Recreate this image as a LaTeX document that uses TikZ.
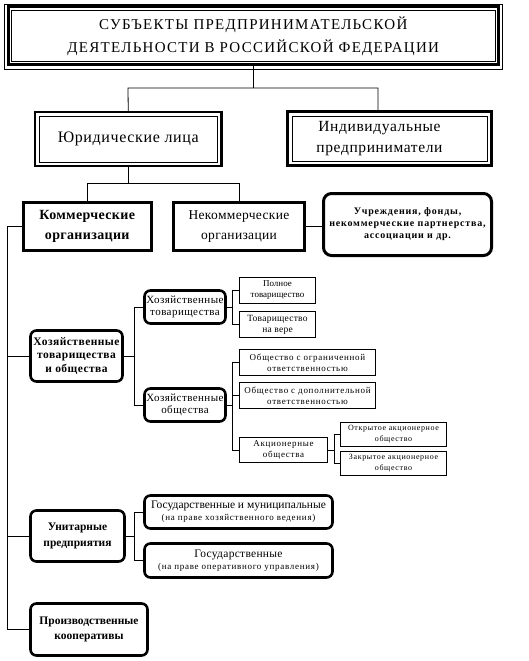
\documentclass[tikz,border=0pt]{standalone}
\usepackage{fontspec}
\setmainfont{Liberation Serif}
\newfontfamily\titlefont[LetterSpace=8.5]{Liberation Serif}
\newfontfamily\spfont[LetterSpace=4]{Liberation Serif}
\newfontfamily\spmfont[LetterSpace=8]{Liberation Serif}
\newfontfamily\spsfont[LetterSpace=2.5]{Liberation Serif}
\newcommand\mybox[7]{\node[#6, minimum width={(#4-#2)*1pt}, minimum height={(#5-#3)*1pt}] (#1) at ({(#2+#4)/2},{(#3+#5)/2}) {#7};}
\tikzset{
  base/.style={inner sep=0pt, outer sep=0pt, align=center},
  thickbox/.style={base, draw, line width=3pt},
  rbox/.style={base, draw, line width=2.6pt, rounded corners=6pt},
  thinbox/.style={base, draw, line width=0.8pt},
  conn/.style={line width=0.8pt},
}
\begin{document}
\begin{tikzpicture}[x=1pt,y=-1pt]
\useasboundingbox (0,0) rectangle (528,661);
% title
\mybox{title}{8}{7}{498.5}{64.5}{thickbox, font={\titlefont\fontsize{15}{23}\selectfont}}{СУБЪЕКТЫ ПРЕДПРИНИМАТЕЛЬСКОЙ\\ДЕЯТЕЛЬНОСТИ В РОССИЙСКОЙ ФЕДЕРАЦИИ}
\draw[line width=0.8pt] ([shift={(-3.5,-2.5)}]title.north west) rectangle ([shift={(3.5,4.5)}]title.south east);
\draw[line width=0.8pt] ([shift={(3,3)}]title.north west) rectangle ([shift={(-3,-3)}]title.south east);
% level 2
\mybox{jur}{35}{112}{221.5}{166}{thickbox, line width=2.2pt, font={\spfont\fontsize{16}{20}\selectfont}}{Юридические лица}
\draw[line width=0.8pt] ([shift={(4,4)}]jur.north west) rectangle ([shift={(-4,-4)}]jur.south east);
\mybox{ind}{287.5}{111.5}{491.5}{165.5}{thickbox, font={\spfont\fontsize{15.5}{21}\selectfont}}{Индивидуальные\hspace*{20pt}\\предприниматели\hspace*{20pt}}
\draw[line width=0.8pt] ([shift={(4.5,4.5)}]ind.north west) rectangle ([shift={(-4.5,-4.5)}]ind.south east);
% level 3
\mybox{komm}{23}{202.5}{151.5}{250.5}{thickbox, font={\spsfont\fontsize{14}{20}\selectfont\bfseries}}{Коммерческие\\организации}
\mybox{nekomm}{173.5}{202.5}{304.5}{250.5}{thickbox, font={\spsfont\fontsize{13.5}{20}\selectfont}}{Некоммерческие\\организации}
\mybox{uchr}{323.5}{193.5}{491.5}{255.5}{rbox, line width=3pt, rounded corners=8pt, font={\spmfont\fontsize{10}{12}\selectfont\bfseries}}{Учреждения, фонды,\\некоммерческие партнерства,\\ассоциации и др.}
% left column
\mybox{hto}{30.5}{330.5}{122.5}{381.5}{rbox, font={\spfont\fontsize{11.5}{13.5}\selectfont\bfseries}}{Хозяйственные\\товарищества\\и общества}
\mybox{unit}{30.5}{510.5}{124.5}{561.5}{rbox, font={\fontsize{11.5}{16}\selectfont\bfseries}}{Унитарные\\предприятия}
\mybox{proizv}{30.5}{603.5}{147.5}{655.5}{rbox, font={\fontsize{11.5}{15}\selectfont\bfseries}}{Производственные\\кооперативы}
% second column
\mybox{ht}{144.5}{290.5}{225.5}{323.5}{rbox, font={\spfont\fontsize{11}{12.5}\selectfont}}{Хозяйственные\\товарищества}
\mybox{ho}{144.5}{388.5}{225.5}{421.5}{rbox, font={\spfont\fontsize{11}{12.5}\selectfont}}{Хозяйственные\\общества}
\mybox{gm}{144.5}{495.5}{332.5}{528.5}{rbox, font={\fontsize{11.5}{12}\selectfont}}{Государственные и муниципальные\\{\spmfont\fontsize{9}{11}\selectfont (на праве хозяйственного ведения)}}
\mybox{go}{144.5}{543.5}{332.5}{577.5}{rbox, font={\spsfont\fontsize{11.5}{12}\selectfont}}{Государственные\\{\spmfont\fontsize{9}{11}\selectfont (на праве оперативного управления)}}
% third column
\mybox{poln}{239.5}{277.5}{315.5}{303.5}{thinbox, font={\fontsize{9}{11}\selectfont}}{Полное\\товарищество}
\mybox{vere}{239.5}{311.5}{315.5}{337.5}{thinbox, font={\spsfont\fontsize{9.5}{11}\selectfont}}{Товарищество\\на вере}
\mybox{ooo}{239.5}{349.5}{375.5}{375.5}{thinbox, font={\spmfont\fontsize{9}{11}\selectfont}}{Общество с ограниченной\\ответственностью}
\mybox{odo}{239.5}{382.5}{375.5}{408.5}{thinbox, font={\spmfont\fontsize{9}{11}\selectfont}}{Общество с дополнительной\\ответственностью}
\mybox{ao}{239.5}{437.5}{327.5}{462.5}{thinbox, font={\spmfont\fontsize{9}{11}\selectfont}}{Акционерные\\общества}
\mybox{oao}{340.5}{422.5}{446.5}{446}{thinbox, font={\spmfont\fontsize{8}{11}\selectfont}}{Открытое акционерное\\общество}
\mybox{zao}{340.5}{451.5}{446.5}{475.5}{thinbox, font={\spmfont\fontsize{8}{11}\selectfont}}{Закрытое акционерное\\общество}
% connectors
\coordinate (h1L) at (128,88);
\coordinate (h1R) at (378,88);
\draw[conn] (title.south) -- (title.south |- h1L);
\draw[conn] (jur.north) -- (h1L) -- (h1R) -- (h1R |- ind.north);
\coordinate (h2) at (0,183);
\draw[conn] (jur.south) -- (jur.south |- h2);
\draw[conn] (komm.north) -- (komm.north |- h2) -- (nekomm.north |- h2) -- (nekomm.north);
\draw[conn] (nekomm.east) -- (nekomm.east -| uchr.west);
\coordinate (sp) at (7,0);
\draw[conn] (komm.west) -- (komm.west -| sp) -- (proizv.west -| sp) -- (proizv.west);
\draw[conn] (hto.west) -- (hto.west -| sp);
\draw[conn] (unit.west) -- (unit.west -| sp);
\coordinate (b1) at (134,0);
\coordinate (b2) at (232,0);
\coordinate (b3) at (334,0);
\draw[conn] (hto.east) -- (hto.east -| b1);
\draw[conn] (ht.west) -- (ht.west -| b1) -- (ho.west -| b1) -- (ho.west);
\draw[conn] (ht.east) -- (ht.east -| b2);
\draw[conn] (poln.west) -- (poln.west -| b2) -- (vere.west -| b2) -- (vere.west);
\draw[conn] (ho.east) -- (ho.east -| b2);
\draw[conn] (ooo.west) -- (ooo.west -| b2) -- (ao.west -| b2) -- (ao.west);
\draw[conn] (odo.west) -- (odo.west -| b2);
\draw[conn] (ao.east) -- (ao.east -| b3);
\draw[conn] (oao.west) -- (oao.west -| b3) -- (zao.west -| b3) -- (zao.west);
\draw[conn] (unit.east) -- (unit.east -| b1);
\draw[conn] (gm.west) -- (gm.west -| b1) -- (go.west -| b1) -- (go.west);
\end{tikzpicture}
\end{document}
